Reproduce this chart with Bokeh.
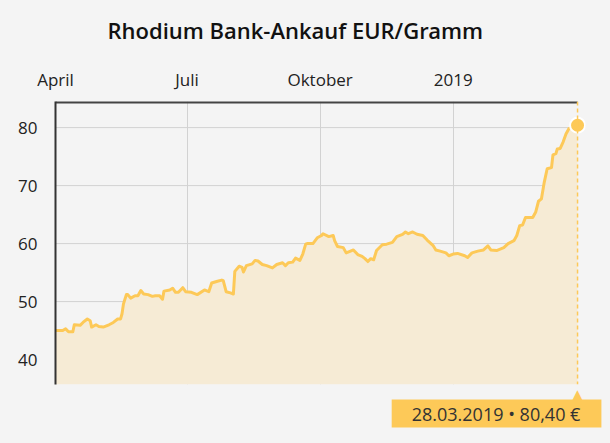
import pandas as pd
from bokeh.plotting import figure
from bokeh.models import Range1d, FixedTicker, Label, Span, ColumnDataSource
from bokeh.embed import file_html
from bokeh.resources import INLINE

# ---------------- data ----------------
title_text = "Rhodium Bank-Ankauf EUR/Gramm"

dates = [
    "2018-04-01", "2018-04-06", "2018-04-08", "2018-04-10", "2018-04-13", "2018-04-14",
    "2018-04-18", "2018-04-20", "2018-04-23", "2018-04-25", "2018-04-26", "2018-04-29",
    "2018-05-01", "2018-05-04", "2018-05-08", "2018-05-11", "2018-05-14", "2018-05-16",
    "2018-05-17", "2018-05-18", "2018-05-20", "2018-05-21", "2018-05-23", "2018-05-26",
    "2018-05-28", "2018-05-30", "2018-06-01", "2018-06-04", "2018-06-07", "2018-06-09",
    "2018-06-12", "2018-06-14", "2018-06-15", "2018-06-19", "2018-06-21", "2018-06-23",
    "2018-06-25", "2018-06-28", "2018-06-30", "2018-07-04", "2018-07-08", "2018-07-13",
    "2018-07-16", "2018-07-18", "2018-07-22", "2018-07-25", "2018-07-26", "2018-07-28",
    "2018-07-31", "2018-08-02", "2018-08-03", "2018-08-06", "2018-08-08", "2018-08-09",
    "2018-08-11", "2018-08-15", "2018-08-17", "2018-08-19", "2018-08-22", "2018-08-25",
    "2018-08-29", "2018-09-01", "2018-09-05", "2018-09-07", "2018-09-09", "2018-09-12",
    "2018-09-14", "2018-09-17", "2018-09-19", "2018-09-21", "2018-09-22", "2018-09-26",
    "2018-09-29", "2018-10-02", "2018-10-03", "2018-10-07", "2018-10-10", "2018-10-11",
    "2018-10-13", "2018-10-17", "2018-10-19", "2018-10-22", "2018-10-24", "2018-10-27",
    "2018-10-30", "2018-11-01", "2018-11-03", "2018-11-05", "2018-11-07", "2018-11-09",
    "2018-11-13", "2018-11-16", "2018-11-20", "2018-11-23", "2018-11-27", "2018-11-29",
    "2018-12-01", "2018-12-04", "2018-12-07", "2018-12-11", "2018-12-14", "2018-12-18",
    "2018-12-20", "2018-12-23", "2018-12-27", "2018-12-29", "2019-01-01", "2019-01-04",
    "2019-01-09", "2019-01-11", "2019-01-14", "2019-01-18", "2019-01-22", "2019-01-25",
    "2019-01-27", "2019-01-31", "2019-02-05", "2019-02-08", "2019-02-12", "2019-02-14",
    "2019-02-16", "2019-02-18", "2019-02-20", "2019-02-25", "2019-02-27", "2019-03-01",
    "2019-03-03", "2019-03-05", "2019-03-07", "2019-03-10", "2019-03-11", "2019-03-13",
    "2019-03-14", "2019-03-16", "2019-03-18", "2019-03-20", "2019-03-22", "2019-03-28",
]

prices = [
    45.0, 45.0, 45.3, 44.8, 44.8, 46.0,
    45.9, 46.4, 47.0, 46.7, 45.6, 46.0,
    45.7, 45.6, 46.0, 46.4, 47.0, 47.0,
    47.9, 49.6, 51.2, 51.2, 50.6, 51.0,
    51.0, 51.9, 51.3, 51.2, 50.9, 51.0,
    51.0, 50.4, 51.8, 52.0, 52.3, 51.6,
    51.6, 52.4, 51.7, 51.6, 51.2, 52.0,
    51.7, 53.2, 53.5, 53.7, 53.6, 51.7,
    51.5, 51.3, 55.2, 56.1, 55.9, 55.1,
    56.2, 56.5, 57.1, 57.0, 56.4, 56.2,
    55.8, 56.4, 56.7, 56.2, 56.7, 56.8,
    57.5, 57.1, 58.2, 59.9, 60.0, 60.0,
    61.0, 61.4, 61.7, 61.2, 61.4, 60.5,
    59.5, 59.3, 58.4, 58.7, 58.9, 58.1,
    57.8, 57.4, 56.9, 57.4, 57.2, 58.8,
    59.8, 59.9, 60.2, 61.2, 61.6, 62.0,
    61.7, 62.0, 61.6, 61.4, 60.6, 59.7,
    58.9, 58.7, 58.4, 57.9, 58.2, 58.3,
    57.9, 57.6, 58.4, 58.7, 58.9, 59.6,
    58.9, 58.8, 59.3, 60.0, 60.5, 61.4,
    63.1, 63.2, 64.5, 64.5, 65.4, 67.3,
    67.7, 70.6, 72.9, 73.1, 75.3, 75.5,
    76.3, 76.4, 77.5, 78.9, 79.8, 80.4,
]

tick_dates = ["2018-04-01", "2018-07-01", "2018-10-01", "2019-01-01"]
tick_labels = ["April", "Juli", "Oktober", "2019"]
y_ticks = [40, 50, 60, 70, 80]

x_start = "2018-04-01"
y_start, y_end = 35.7, 84.5

# ---------------- styling ----------------
BG = "#f4f4f4"
LINE = "#fdc958"
FILL = "#f6ebd5"
GRID = "#d2d2d2"
TEXT = "#222222"
FONT = "Open Sans"

x = pd.to_datetime(dates)
last_x = x[-1]
last_y = prices[-1]
x0 = pd.Timestamp(x_start)
src = ColumnDataSource(data=dict(x=x, y=prices))

# frame extends a little beyond the last date so that the end marker is not cut
p = figure(width=610, height=443, x_axis_type="datetime", x_axis_location="above",
           x_range=Range1d(x0, last_x + pd.Timedelta(days=5.5)),
           y_range=Range1d(y_start, y_end), title_location=None,
           output_backend="svg", toolbar_location=None,
           min_border_left=55, min_border_right=25, min_border_top=101, min_border_bottom=59,
           background_fill_color=BG, border_fill_color=BG, outline_line_color=None)

# horizontal grid lines ending at the last date
p.segment(x0=[x0] * len(y_ticks), x1=[last_x] * len(y_ticks), y0=y_ticks, y1=y_ticks,
          line_color=GRID, line_width=1)
p.ygrid.grid_line_color = None
p.xgrid.grid_line_color = GRID
p.xgrid.grid_line_width = 1

p.varea(x="x", y1=y_start, y2="y", source=src, fill_color=FILL)
p.line(x="x", y="y", source=src, line_color=LINE, line_width=3, line_join="round")

# top border line (ends at the last date)
p.segment(x0=[x0], x1=[last_x], y0=[y_end], y1=[y_end], line_color="#444444", line_width=4)

# x axis (top)
tick_ms = [pd.Timestamp(d).value / 1e6 for d in tick_dates]
xa = p.xaxis[0]
xa.ticker = FixedTicker(ticks=tick_ms)
xa.major_label_overrides = {t: lab for t, lab in zip(tick_ms, tick_labels)}
xa.axis_line_color = None
xa.major_tick_line_color = None
xa.minor_tick_line_color = None
xa.major_label_text_font = FONT
xa.major_label_text_font_size = "17px"
xa.major_label_text_color = TEXT
xa.major_label_standoff = 5

ya = p.yaxis[0]
ya.ticker = FixedTicker(ticks=y_ticks)
ya.axis_line_color = "#333333"
ya.axis_line_width = 2
ya.major_tick_line_color = None
ya.minor_tick_line_color = None
ya.major_label_text_font = FONT
ya.major_label_text_font_size = "17px"
ya.major_label_text_color = TEXT
ya.major_label_standoff = 12

# title (label in its own panel above the axis, measured up from the panel bottom)
p.add_layout(Label(x=52, y=35, x_units="screen", y_units="screen", text=title_text,
                   text_align="left", text_baseline="alphabetic",
                   text_font="Open Sans SemiBold, Open Sans", text_font_size="22px",
                   text_color="#111111"), "above")

# last point: dashed line and marker
p.add_layout(Span(location=last_x, dimension="height", line_color=LINE,
                  line_dash="4 3", line_width=1.5))
p.scatter(x=[last_x], y=[last_y], size=15, fill_color=LINE, line_color="white",
          line_width=2)

# callout below the frame (each label sits in its own panel, measured up from its bottom)
p.add_layout(Label(x=last_x, y=17, y_units="screen", text="\u25b2",
                   text_align="center", text_baseline="top",
                   text_font="DejaVu Sans", text_font_size="15px", text_color=LINE), "below")

callout = f"{last_x:%d.%m.%Y} \u2022 " + f"{last_y:.2f}".replace(".", ",") + " \u20ac"
p.add_layout(Label(x=last_x, y=17, y_units="screen", x_offset=-81, text=callout,
                   anchor="center", text_align="center", text_baseline="middle",
                   padding=dict(left=20, right=21, top=2, bottom=2),
                   background_fill_color=LINE,
                   text_font=FONT, text_font_size="18px", text_color="#333333"), "below")

html = file_html(p, INLINE).replace("<body>", '<body style="background-color:#f4f4f4;">')
open("out.html", "w").write(html)
